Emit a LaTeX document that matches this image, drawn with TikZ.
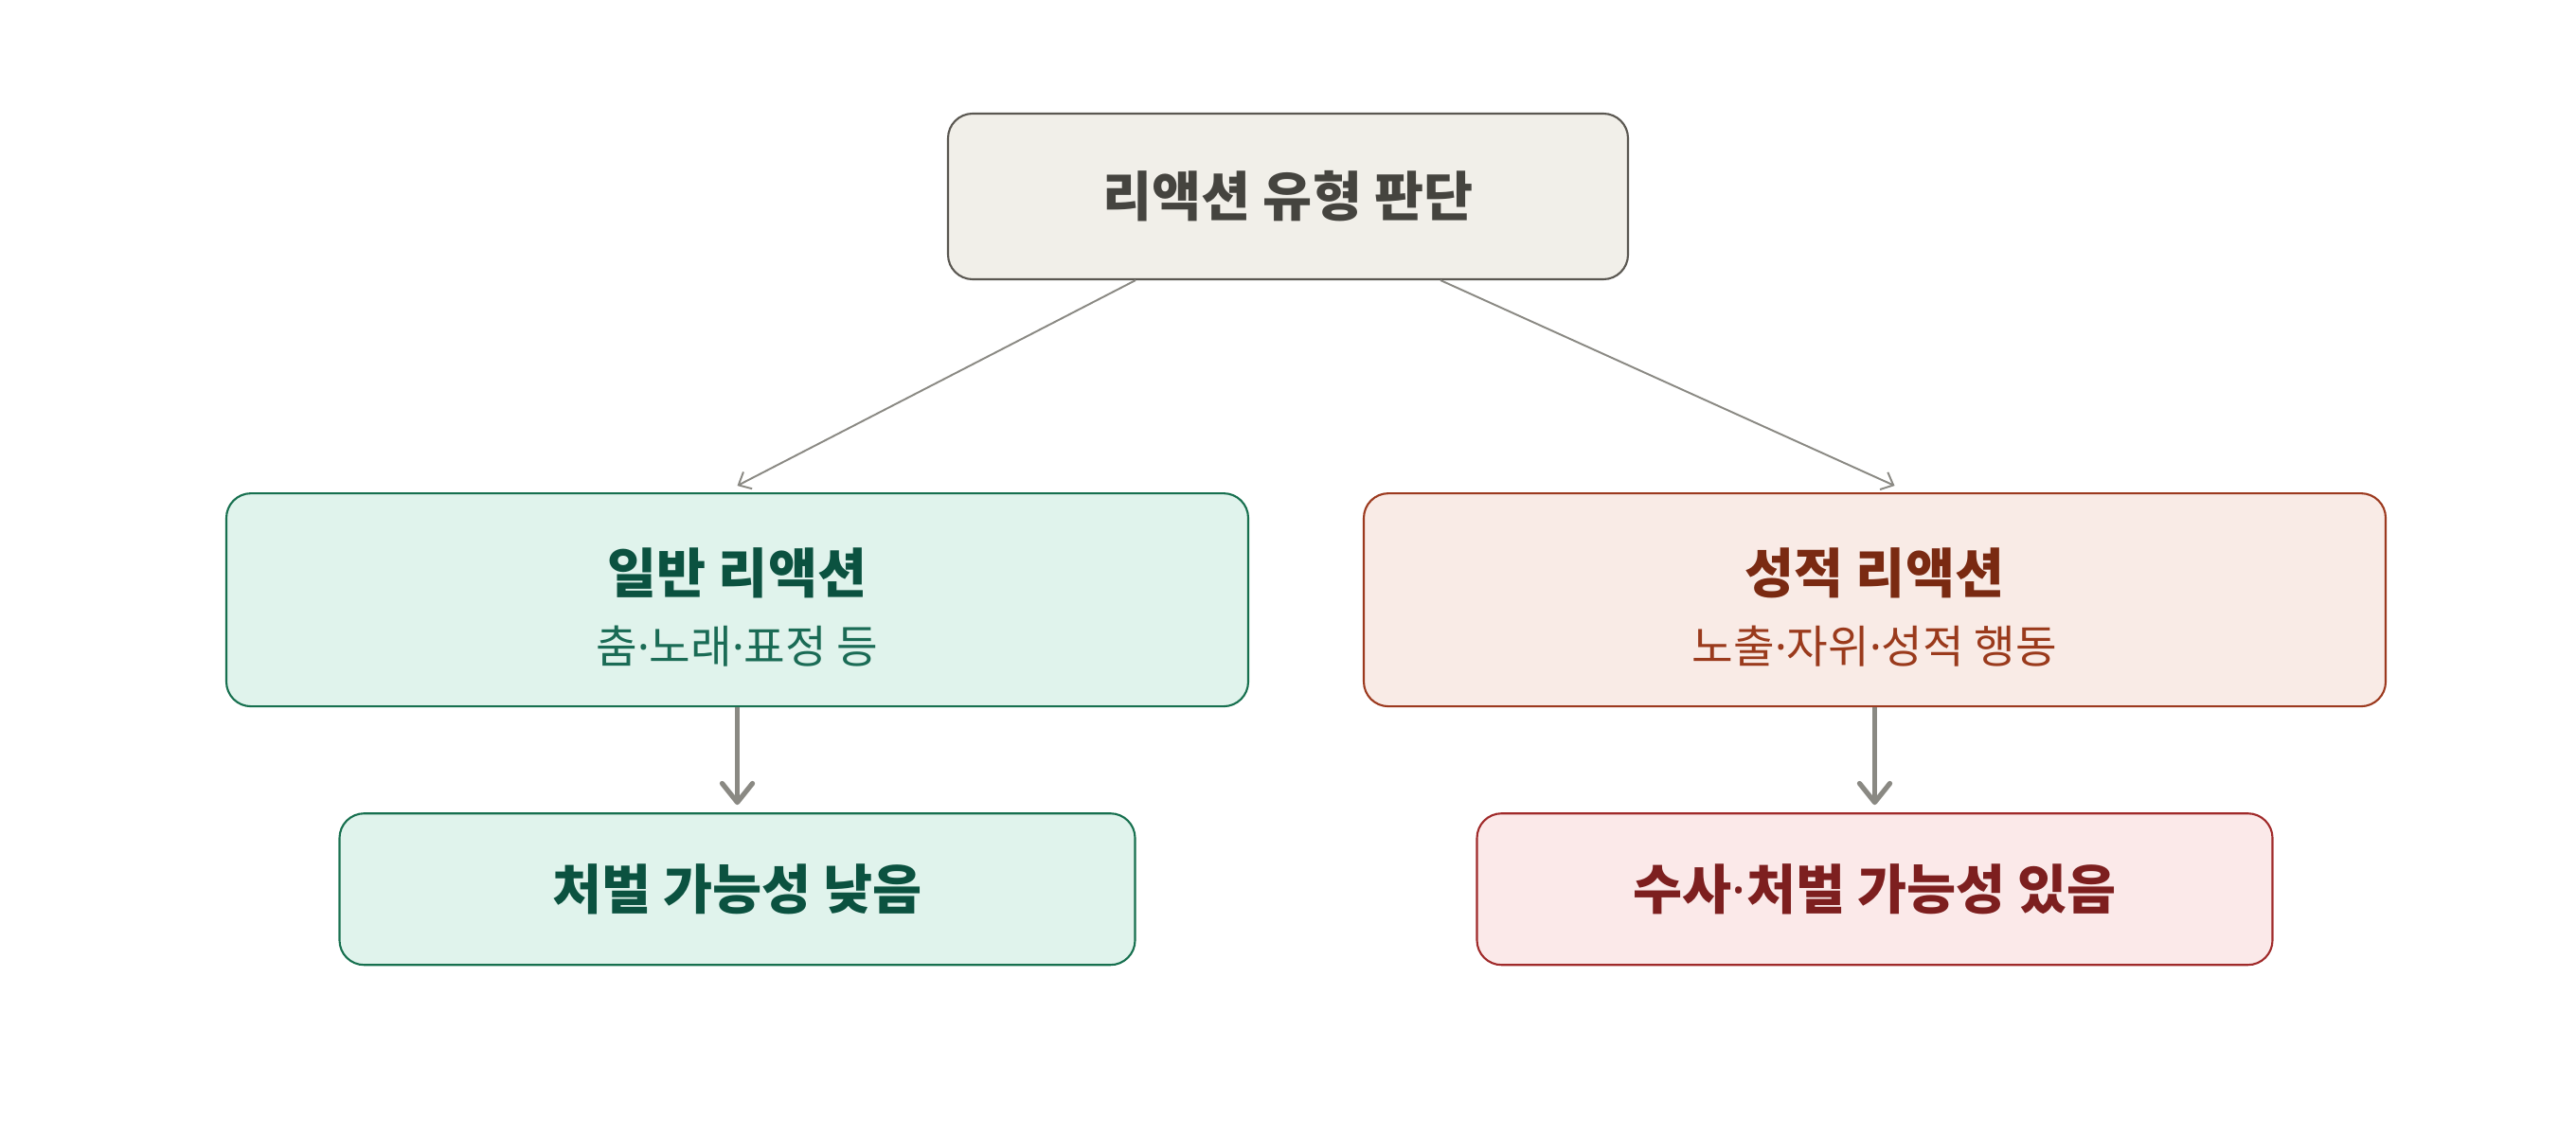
\documentclass[tikz,border=0pt]{standalone}
\usepackage{fontspec}
\newfontfamily\krfont{Noto Sans CJK KR}
\newfontfamily\dotfont{Noto Sans}
\newcommand{\mdot}{{\dotfont ·}}
\usetikzlibrary{arrows.meta,positioning}

\definecolor{grayfill}{HTML}{F1EFE9}
\definecolor{graydraw}{HTML}{5A5751}
\definecolor{graytext}{HTML}{45443F}
\definecolor{greenfill}{HTML}{E0F3EC}
\definecolor{greendraw}{HTML}{17704F}
\definecolor{greentext}{HTML}{0B5240}
\definecolor{greensub}{HTML}{1A6B55}
\definecolor{orangefill}{HTML}{F9EBE6}
\definecolor{orangedraw}{HTML}{9C3A1F}
\definecolor{orangetext}{HTML}{7A2A12}
\definecolor{orangesub}{HTML}{9A3A1C}
\definecolor{redfill}{HTML}{FBE9E9}
\definecolor{reddraw}{HTML}{A02A2A}
\definecolor{redtext}{HTML}{7D1F1F}
\definecolor{arrowgray}{HTML}{8A8983}

\tikzset{
  box/.style={draw, rounded corners=0.26cm, line width=0.6pt, inner sep=0pt},
  headtext/.style={font=\krfont\bfseries\fontsize{16.1}{20}\selectfont},
  subtext/.style={font=\krfont\fontsize{13.5}{16}\selectfont},
  thin arrow/.style={draw=arrowgray, line width=0.55pt,
    -{Straight Barb[length=0.11cm,width=0.2cm]}},
  thick arrow/.style={draw=arrowgray, line width=1.5pt, shorten >=0.08cm,
    -{Straight Barb[round,length=0.2cm,width=0.32cm]}}
}

\begin{document}
\begin{tikzpicture}
  \useasboundingbox (0,0) rectangle (27.2,12);
  \node[box, fill=grayfill, draw=graydraw, minimum width=7.18cm, minimum height=1.75cm,
        headtext, text=graytext] (top) at (13.6,9.925) {리액션 유형 판단};
  \node[box, fill=greenfill, draw=greendraw, minimum width=10.79cm, minimum height=2.25cm]
        (gen) [below=2.24cm of top, xshift=-5.815cm] {};
  \node[box, fill=orangefill, draw=orangedraw, minimum width=10.79cm, minimum height=2.25cm]
        (sex) [below=2.24cm of top, xshift=6.195cm] {};
  \node[headtext, text=greentext] (gen-t) at ([yshift=0.285cm]gen.center) {일반 리액션};
  \node[subtext, text=greensub] (gen-s) at ([yshift=-0.485cm]gen.center) {춤\mdot 노래\mdot 표정 등};
  \node[headtext, text=orangetext] (sex-t) at ([yshift=0.285cm]sex.center) {성적 리액션};
  \node[subtext, text=orangesub] (sex-s) at ([yshift=-0.485cm]sex.center) {노출\mdot 자위\mdot 성적 행동};
  \node[box, fill=greenfill, draw=greendraw, minimum width=8.4cm, minimum height=1.6cm,
        headtext, text=greentext] (low) [below=1.11cm of gen] {처벌 가능성 낮음};
  \node[box, fill=redfill, draw=reddraw, minimum width=8.4cm, minimum height=1.6cm,
        headtext, text=redtext] (high) [below=1.11cm of sex] {수사\mdot 처벌 가능성 있음};
  \path[thin arrow] ([xshift=-1.61cm]top.south) -- ([yshift=0.07cm]gen.north);
  \path[thin arrow] ([xshift=1.61cm]top.south) -- ([xshift=0.21cm,yshift=0.07cm]sex.north);
  \path[thick arrow] (gen) -- (low);
  \path[thick arrow] (sex) -- (high);
\end{tikzpicture}
\end{document}
